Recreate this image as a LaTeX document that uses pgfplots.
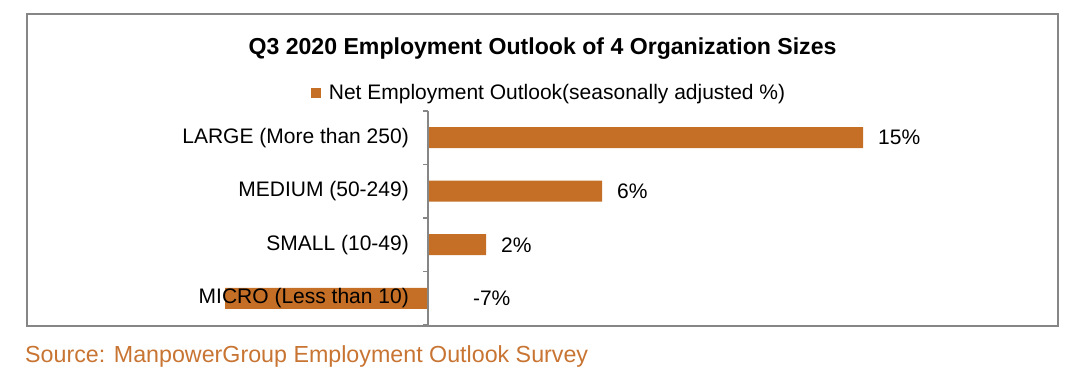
\documentclass[border=0pt]{standalone}
\usepackage{fontspec}
\setmainfont{Liberation Sans}
\usepackage{pgfplots}
\pgfplotsset{compat=1.18}
\definecolor{barc}{RGB}{196,110,38}
\definecolor{framec}{RGB}{134,134,134}
\definecolor{srcc}{RGB}{200,116,50}
\begin{document}
\begin{tikzpicture}[x=1pt,y=1pt]
\draw[framec, line width=2pt] (27,55) rectangle (1058,367);
\node[anchor=base, inner sep=0pt, font=\bfseries\fontsize{23.1}{27}\selectfont] at (542.5,326.5) {Q3 2020 Employment Outlook of 4 Organization Sizes};
\begin{axis}[
  at={(210.5pt,56pt)}, anchor=south west,
  x=29pt, y=53.5pt,
  xmin=-7.5, xmax=20, ymin=0.5, ymax=4.5,
  hide x axis,
  axis line style={draw=none},
  ytick={1,2,3,4},
  yticklabels={MICRO (Less than 10), SMALL (10-49), MEDIUM (50-249), LARGE (More than 250)},
  major tick length=0pt,
  ytick style={draw=none},
  yticklabel style={anchor=east, inner sep=0pt, xshift=198.5pt, font=\fontsize{21}{25}\selectfont, text=black},
  axis on top,
  clip=false,
  legend style={at={(0.4245,1.084)}, anchor=center, draw=none, fill=none, font=\fontsize{21}{25}\selectfont, inner sep=0pt},
  legend image code/.code={\fill[barc] (0pt,-5pt) rectangle (10pt,5pt); \path (16pt,0pt);},
]
\addplot[xbar, bar width=21pt, fill=barc, draw=none] coordinates {(-7,1) (2,2) (6,3) (15,4)};
\addlegendentry{Net Employment Outlook(seasonally adjusted \%)}
\addplot[draw=none, mark=none, forget plot, nodes near coords, point meta=explicit symbolic,
  nodes near coords style={anchor=west, inner sep=0pt, xshift=15pt, font=\fontsize{21}{25}\selectfont, text=black}]
  coordinates {(15,4)[15\%] (6,3)[6\%] (2,2)[2\%] (1.03,1)[-7\%]};
\draw[framec, line width=2pt] (axis cs:0,0.5) -- (axis cs:0,4.5);
\pgfplotsinvokeforeach{0.5,1.5,2.5,3.5,4.5}{\draw[framec, line width=1.5pt] (axis cs:0,#1) -- ++(-5pt,0pt);}
\end{axis}
\node[anchor=base west, inner sep=0pt, text=srcc, font=\fontsize{23.25}{27}\selectfont] at (25,18.5) {Source: ManpowerGroup Employment Outlook Survey};
\pgfresetboundingbox
\useasboundingbox (0,0) rectangle (1077,381);
\end{tikzpicture}
\end{document}
